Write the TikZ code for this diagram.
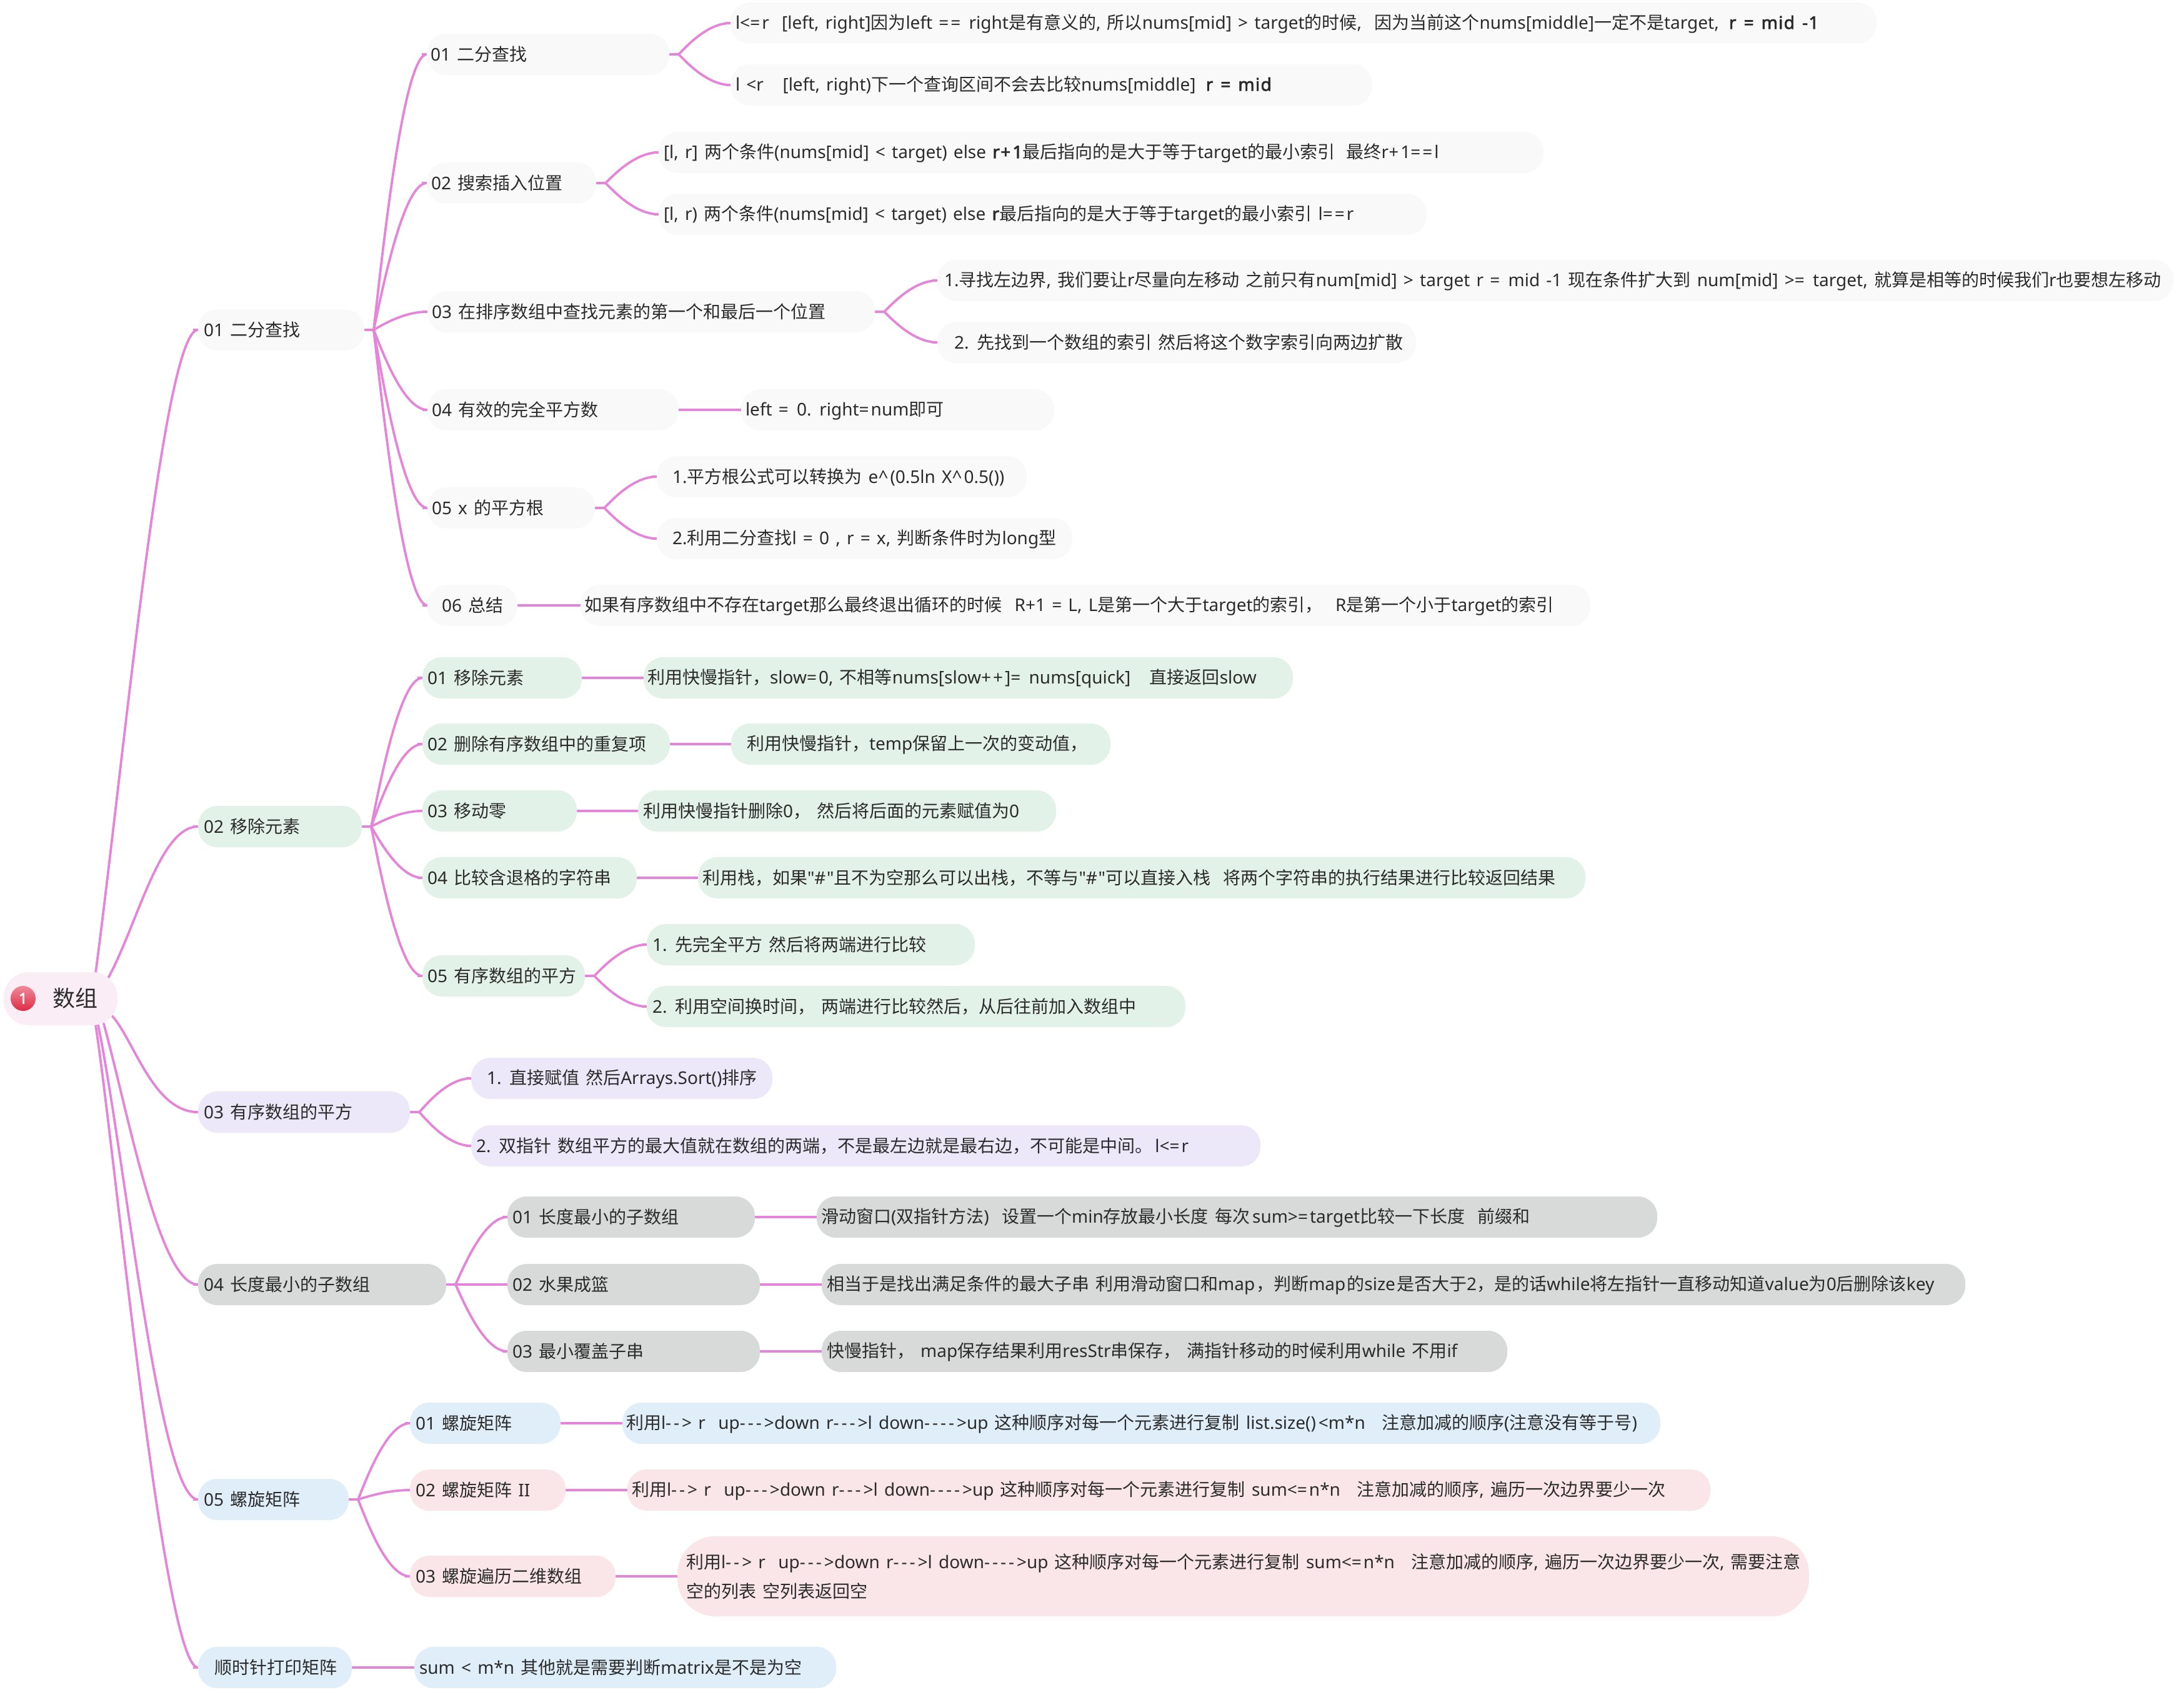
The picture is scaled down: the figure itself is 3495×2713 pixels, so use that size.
\documentclass[tikz,border=0pt]{standalone}
\usepackage{fontspec}
\usetikzlibrary{calc,backgrounds}
\newfontfamily\latinf[Scale=1.0,WordSpace=1.4]{Noto Sans}
\newfontfamily\latinbold[Scale=1.0,WordSpace=1.4,FakeBold=2.5,LetterSpace=4.8]{Noto Sans}
\newfontfamily\cjkf{Noto Sans CJK SC}
\newcommand\tb[1]{{\latinbold #1}}
\newcommand\hh{-\kern2pt}
\newcommand\eqk{=\kern1.5pt}
\newcommand\plk{+\kern1.5pt}
\newXeTeXintercharclass\cjkc
\newcount\cjkn
\newcommand\cjkrange[2]{\cjkn=#1 \loop\XeTeXcharclass\cjkn=\cjkc \ifnum\cjkn<#2 \advance\cjkn 1 \repeat}
\cjkrange{"3000}{"303F}
\cjkrange{"4E00}{"9FFF}
\cjkrange{"FF00}{"FFEF}
\XeTeXinterchartoks 0 \cjkc={\cjkf}
\XeTeXinterchartoks 4095 \cjkc={\cjkf}
\XeTeXinterchartoks \cjkc 0={\latinf}
\XeTeXinterchartoks \cjkc 4095={\latinf}
\XeTeXinterchartokenstate=1
\definecolor{cgrey}{HTML}{F9F9F9}
\definecolor{cgreen}{HTML}{E3F2E8}
\definecolor{cpurple}{HTML}{ECE8F9}
\definecolor{cdark}{HTML}{D8DADA}
\definecolor{cblue}{HTML}{E0EEFA}
\definecolor{cpink}{HTML}{FAE6E8}
\definecolor{croot}{HTML}{FAEDF6}
\definecolor{cline}{HTML}{E585D9}
\definecolor{ctext}{HTML}{2B2B2B}
\definecolor{iconhi}{HTML}{EE8A99}
\definecolor{iconlo}{HTML}{DF2B45}
\tikzset{
  mbox/.style={inner sep=0pt,outer sep=0pt,anchor=west,text=ctext,font=\fontsize{14}{23.5}\selectfont\latinf},
  link/.style={draw=cline,line width=1.9pt,line cap=round},
  stublink/.style={draw=cline,line width=2.3pt},
}
\pgfdeclarelayer{bg}
\pgfsetlayers{bg,main}
% name, x1, x2, yc, h, fill, pad, text
\newcommand\nb[8]{%
  \pgfmathsetmacro\nbW{(#3-#2)*0.5}%
  \pgfmathsetmacro\nbH{(#5)*0.5}%
  \pgfmathsetmacro\nbR{(#5)*0.235}%
  \pgfmathsetmacro\nbP{(#7)*0.5}%
  \node[mbox,fill=#6,rounded corners=\nbR pt,minimum width=\nbW pt,minimum height=\nbH pt] (#1) at (#2,#4)
    {\makebox[\nbW pt][l]{\hspace*{\nbP pt}\rule[-2pt]{0pt}{14.6pt}#8}};%
}
\newcommand\linkcurve[2]{%
  \draw[link] let \p1=($(#1.east)+(15,0)$),\p2=(#2.west),\n1={\x2-\x1},\n2={\y2-\y1} in
    (\p1) .. controls (\x1+0.15*\n1,\y1+0.25*\n2) and (\x2-0.45*\n1,\y2) .. (\p2);
  \draw[stublink] (#1.east) -- ++(18,0);
  \draw[stublink] (#2.west) -- ++(-8,0);
}
\newcommand\linkstraight[2]{\draw[stublink] (#1.east) -- (#2.west);}
% target, start offset, first control, x of second control
\newcommand\rootcurve[4]{%
  \draw[link] ($(root.center)+(#2)$) .. controls (#3) and ($(#1.west)+(#4,0)$) .. (#1.west);
  \draw[stublink] (#1.west) -- ++(-8,0);
}
\begin{document}
\begin{tikzpicture}[x=0.5pt,y=-0.5pt]
\useasboundingbox (0,0) rectangle (3495,2713);
% root
\node[mbox,fill=croot,rounded corners=20pt,minimum width=91pt,minimum height=42.5pt,font=\fontsize{18}{22}\selectfont\latinf] (root) at (6,1598.5)
  {\makebox[91pt][l]{\hspace*{39.5pt}\rule[-2.6pt]{0pt}{16.3pt}数组}};
\node[circle,minimum size=20pt,inner sep=0pt,top color=iconhi,bottom color=iconlo,text=white,font=\fontsize{12}{14}\selectfont\latinbold] (rooticon) at (37,1598) {1};
% level 1
\nb{a}{317}{583}{528}{66}{cgrey}{9}{01 二分查找}
\nb{b}{317}{579}{1323}{66}{cgreen}{9}{02 移除元素}
\nb{c}{317}{656}{1780}{66}{cpurple}{9}{03 有序数组的平方}
\nb{d}{317}{714}{2056}{66}{cdark}{9}{04 长度最小的子数组}
\nb{e}{317}{558}{2400}{66}{cblue}{9}{05 螺旋矩阵}
\nb{f}{317}{563}{2669}{66}{cblue}{26}{顺时针打印矩阵}
% a children
\nb{a1}{683}{1071}{87}{66}{cgrey}{6}{01 二分查找}
\nb{a2}{683}{954}{293}{66}{cgrey}{7}{02 搜索插入位置}
\nb{a3}{684}{1400}{499}{66}{cgrey}{7}{03 在排序数组中查找元素的第一个和最后一个位置}
\nb{a4}{684}{1086}{656}{66}{cgrey}{7}{04 有效的完全平方数}
\nb{a5}{684}{952}{813}{66}{cgrey}{7}{05 x 的平方根}
\nb{a6}{684}{828}{969}{66}{cgrey}{23}{06 总结}
\nb{a11}{1169}{3003}{37}{66}{cgrey}{8}{l<\eqk{}r~~[left, right]因为left \eqk\eqk{} right是有意义的, 所以nums[mid] > target的时候,~~因为当前这个nums[middle]一定不是target,\kern3pt{} \tb{r = mid -1}}
\nb{a12}{1169}{2196}{136}{66}{cgrey}{8}{l <r~~~[left, right)下一个查询区间不会去比较nums[middle]\kern3pt{} \tb{r = mid}}
\nb{a21}{1054}{2470}{244}{66}{cgrey}{8}{[l, r] 两个条件(nums[mid] < target) else \tb{r\plk 1}最后指向的是大于等于target的最小索引 \kern4pt{}最终r\plk 1\eqk\eqk{}l}
\nb{a22}{1054}{2283}{343}{66}{cgrey}{8}{[l, r) 两个条件(nums[mid] < target) else \tb{r}最后指向的是大于等于target的最小索引 l\eqk\eqk{}r}
\nb{a31}{1500}{3478}{449}{66}{cgrey}{11}{1.寻找左边界, 我们要让r尽量向左移动 之前只有num[mid] > target r \eqk{} mid -1 现在条件扩大到 num[mid] >\eqk{} target, 就算是相等的时候我们r也要想左移动}
\nb{a32}{1500}{2266}{548}{66}{cgrey}{27}{2. 先找到一个数组的索引 然后将这个数字索引向两边扩散}
\nb{a41}{1186}{1687}{656}{66}{cgrey}{7}{left \eqk{} 0. right\eqk{}num即可}
\nb{a51}{1051}{1643}{763}{66}{cgrey}{25}{1.平方根公式可以转换为 e\textasciicircum\kern1.5pt{}(0.5ln X\textasciicircum\kern1.5pt{}0.5())}
\nb{a52}{1051}{1716}{862}{66}{cgrey}{25}{2.利用二分查找l = 0 , r = x, 判断条件时为long型}
\nb{a61}{929}{2545}{969}{66}{cgrey}{6}{如果有序数组中不存在target那么最终退出循环的时候~~R+1 = L, L是第一个大于target的索引，~~R是第一个小于target的索引}
% b children
\nb{b1}{676}{931}{1085}{66}{cgreen}{8}{01 移除元素}
\nb{b2}{676}{1072}{1191}{66}{cgreen}{8}{02 删除有序数组中的重复项}
\nb{b3}{676}{923}{1298}{66}{cgreen}{8}{03 移动零}
\nb{b4}{676}{1019}{1405}{66}{cgreen}{8}{04 比较含退格的字符串}
\nb{b5}{676}{936}{1562}{66}{cgreen}{8}{05 有序数组的平方}
\nb{b11}{1030}{2069}{1085}{66}{cgreen}{6}{利用快慢指针，slow\eqk{}0, 不相等nums[slow\plk\plk{}]\eqk{} nums[quick]\kern5pt~~直接返回slow}
\nb{b21}{1170}{1777}{1191}{66}{cgreen}{25}{利用快慢指针，temp保留上一次的变动值，}
\nb{b31}{1021}{1690}{1298}{66}{cgreen}{8}{利用快慢指针删除0，~然后将后面的元素赋值为0}
\nb{b41}{1117}{2537}{1405}{66}{cgreen}{7}{利用栈，如果"\#\kern.8pt"且不为空那么可以出栈，不等与"\#\kern.8pt"可以直接入栈~~将两个字符串的执行结果进行比较返回结果}
\nb{b51}{1035}{1560}{1512}{66}{cgreen}{9}{1. 先完全平方 然后将两端进行比较}
\nb{b52}{1035}{1897}{1611}{66}{cgreen}{9}{2. 利用空间换时间，~两端进行比较然后，从后往前加入数组中}
% c children
\nb{c1}{754}{1236}{1726}{66}{cpurple}{25}{1. 直接赋值 然后Arrays.Sort()排序}
\nb{c2}{754}{2017}{1834}{66}{cpurple}{8}{2. 双指针 数组平方的最大值就在数组的两端，不是最左边就是最右边，不可能是中间。\kern2pt{}l<\eqk{}r}
% d children
\nb{d1}{812}{1208}{1948}{66}{cdark}{8}{01 长度最小的子数组}
\nb{d2}{812}{1216}{2056}{66}{cdark}{8}{02 水果成篮}
\nb{d3}{812}{1216}{2163}{66}{cdark}{8}{03 最小覆盖子串}
\nb{d11}{1307}{2652}{1948}{66}{cdark}{7}{滑动窗口(双指针方法)~~设置一个min存放最小长度 每次\kern2pt{}sum>\eqk{}target比较一下长度~~前缀和}
\nb{d21}{1315}{3145}{2056}{66}{cdark}{8}{相当于是找出满足条件的最大子串 利用滑动窗口和map\kern1pt，判断map\kern1pt的size\kern1pt是否大于2，是的话while将左指针一直移动知道value为0后删除该key}
\nb{d31}{1315}{2412}{2163}{66}{cdark}{8}{快慢指针，~map保存结果利用resStr串保存，~满指针移动的时候利用while 不用if}
% e children
\nb{e1}{656}{897}{2278}{66}{cblue}{9}{01 螺旋矩阵}
\nb{e2}{656}{905}{2385}{66}{cpink}{9}{02 螺旋矩阵 II}
\nb{e3}{656}{985}{2523}{66}{cpink}{9}{03 螺旋遍历二维数组}
\nb{e11}{996}{2657}{2278}{66}{cblue}{6}{利用l\hh\hh> r~~up\hh\hh\hh>down r\hh\hh\hh>l down\hh\hh\hh\hh>up 这种顺序对每一个元素进行复制 list.size()\kern2pt{}<m*n\kern3pt~~注意加减的顺序(注意没有等于号)}
\nb{e21}{1004}{2737}{2385}{66}{cpink}{7}{利用l\hh\hh> r~~up\hh\hh\hh>down r\hh\hh\hh>l down\hh\hh\hh\hh>up 这种顺序对每一个元素进行复制 sum<\eqk{}n*n\kern3pt~~注意加减的顺序, 遍历一次边界要少一次}
\nb{e31}{1084}{2895}{2523}{128}{cpink}{14}{\parbox[c]{900pt}{\setlength\baselineskip{23.5pt}利用l\hh\hh> r~~up\hh\hh\hh>down r\hh\hh\hh>l down\hh\hh\hh\hh>up 这种顺序对每一个元素进行复制 sum<\eqk{}n*n\kern3pt~~注意加减的顺序, 遍历一次边界要少一次, 需要注意\\空的列表 空列表返回空}}
% f child
\nb{f1}{663}{1338}{2669}{66}{cblue}{8}{sum < m*n 其他就是需要判断matrix是不是为空}
\begin{pgfonlayer}{bg}
\fill[white] (0,0) rectangle (3495,2713);
\rootcurve{a}{56,-41}{200,1200}{-55}
\rootcurve{b}{76,-33}{220,1480}{-62}
\rootcurve{c}{82,27}{215,1665}{-72}
\rootcurve{d}{69,40}{205,1780}{-62}
\rootcurve{e}{60,42}{200,1850}{-62}
\rootcurve{f}{56,42}{185,1850}{-55}
\linkcurve{a}{a1}\linkcurve{a}{a2}\linkcurve{a}{a3}\linkcurve{a}{a4}\linkcurve{a}{a5}\linkcurve{a}{a6}
\linkcurve{b}{b1}\linkcurve{b}{b2}\linkcurve{b}{b3}\linkcurve{b}{b4}\linkcurve{b}{b5}
\linkcurve{c}{c1}\linkcurve{c}{c2}
\linkcurve{d}{d1}\linkstraight{d}{d2}\linkcurve{d}{d3}
\linkcurve{e}{e1}\linkcurve{e}{e2}\linkcurve{e}{e3}
\linkcurve{a1}{a11}\linkcurve{a1}{a12}
\linkcurve{a2}{a21}\linkcurve{a2}{a22}
\linkcurve{a3}{a31}\linkcurve{a3}{a32}
\linkstraight{a4}{a41}
\linkcurve{a5}{a51}\linkcurve{a5}{a52}
\linkstraight{a6}{a61}
\linkstraight{b1}{b11}\linkstraight{b2}{b21}\linkstraight{b3}{b31}\linkstraight{b4}{b41}
\linkcurve{b5}{b51}\linkcurve{b5}{b52}
\linkstraight{d1}{d11}\linkstraight{d2}{d21}\linkstraight{d3}{d31}
\linkstraight{e1}{e11}\linkstraight{e2}{e21}\linkstraight{e3}{e31}
\linkstraight{f}{f1}
\end{pgfonlayer}
\end{tikzpicture}
\end{document}
